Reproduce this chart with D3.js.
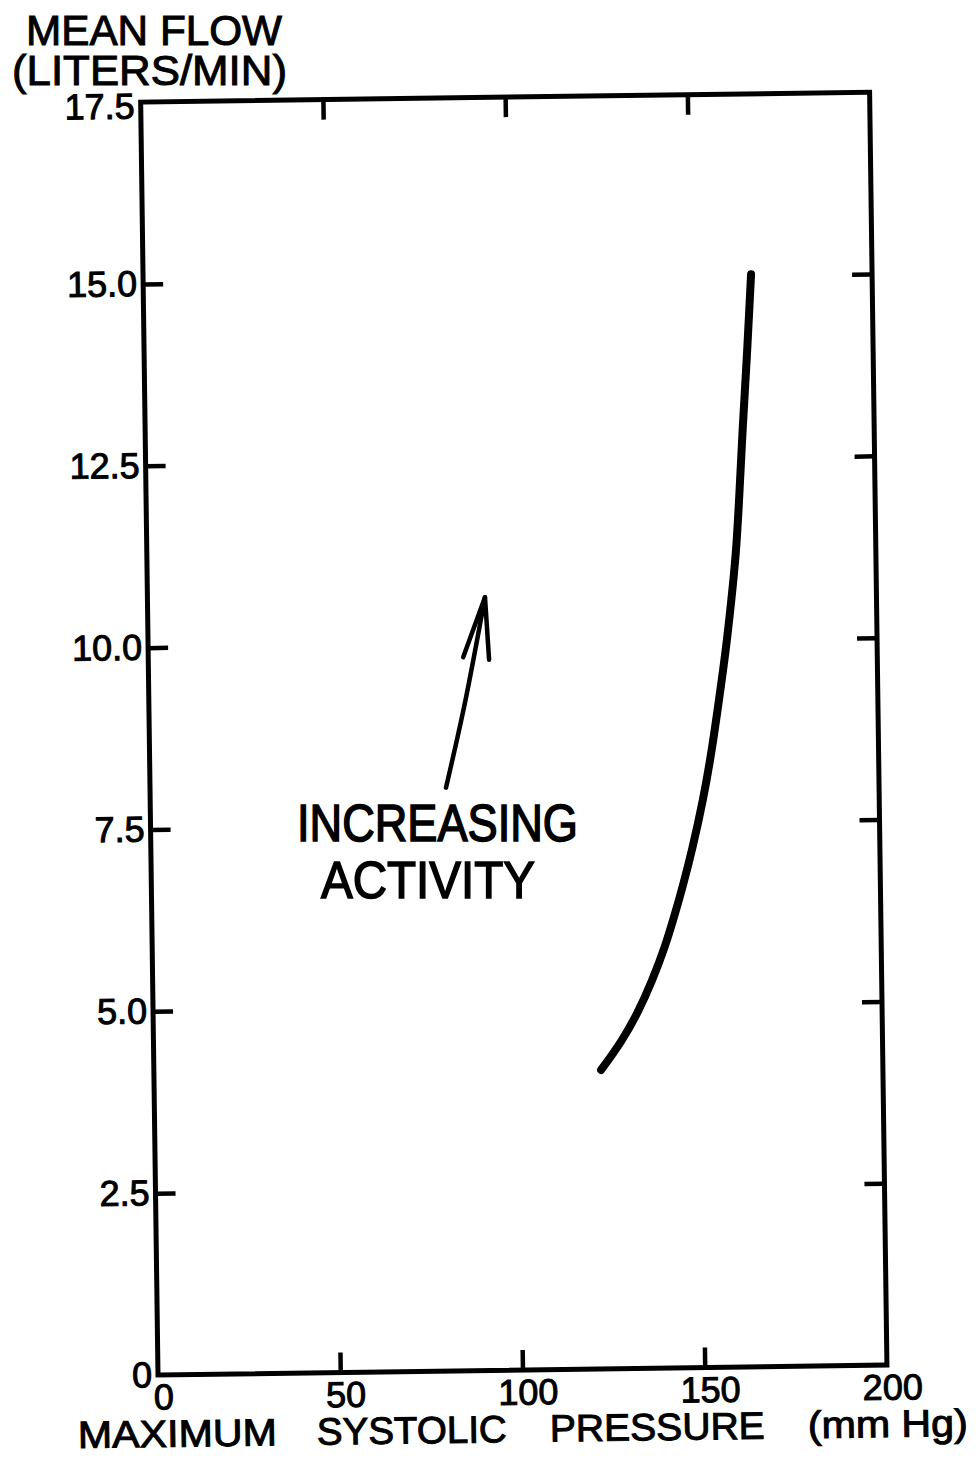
<!DOCTYPE html>
<html>
<head>
<meta charset="utf-8">
<script src="https://cdn.jsdelivr.net/npm/d3@7"></script>
<style>
  body { margin: 0; background: #fff; }
  text { font-family: "Liberation Sans", Arial, sans-serif; fill: #000; stroke: #000; stroke-width: 1; }
</style>
</head>
<body>
<div id="chart"></div>
<script>
// values
const pressure = [122.7, 128.5, 133.0, 137.0, 140.7, 143.6, 145.9, 148.5, 151.7, 154.3, 156.4, 158.5, 160.2, 161.6, 162.6, 164.0, 165.5, 166.8];
const flow = [4.11, 4.50, 4.89, 5.32, 5.79, 6.25, 6.64, 7.12, 7.80, 8.49, 9.17, 9.86, 10.55, 11.16, 11.85, 12.98, 13.98, 15.02];
const xTicks = [0, 50, 100, 150, 200];
const yTicks = [0, 2.5, 5, 7.5, 10, 12.5, 15, 17.5];
const innerX = [50, 100, 150];
const innerY = [2.5, 5, 7.5, 10, 12.5, 15];

// arrow "increasing activity" (shaft and head), in data units
const arrowPressure = [81.2, 86.7, 92.6];
const arrowFlow = [8.02, 9.18, 10.63];
const headPressure = [86.4, 92.6, 93.5];
const headFlow = [9.81, 10.63, 9.77];

const width = 978, height = 1458;
const plotW = 729, plotH = 1273;
const tilt = -0.78; // the scan is slightly rotated

const svg = d3.select("#chart")
    .append("svg")
    .attr("width", width)
    .attr("height", height);

svg.append("rect").attr("width", width).attr("height", height).attr("fill", "#fff");

const x = d3.scaleLinear().domain([0, 200]).range([0, plotW]);
const y = d3.scaleLinear().domain([0, 17.5]).range([plotH, 0]);

const g = svg.append("g")
    .attr("transform", `translate(158,1375) rotate(${tilt}) translate(0,${-plotH})`);

// frame
g.append("rect")
    .attr("width", plotW)
    .attr("height", plotH)
    .attr("fill", "none")
    .attr("stroke", "#000")
    .attr("stroke-width", 5);

function styleAxis(sel) {
    sel.select(".domain").remove();
    sel.selectAll(".tick line").attr("stroke", "#000").attr("stroke-width", 4.5);
    sel.selectAll(".tick text")
        .attr("font-family", "'Liberation Sans', Arial, sans-serif")
        .attr("font-size", 36)
        .attr("fill", "#000");
}

// bottom axis with labels
g.append("g")
    .attr("transform", `translate(0,${plotH})`)
    .call(d3.axisBottom(x).tickValues(xTicks).tickSize(-20).tickPadding(9).tickFormat(d3.format("d")))
    .call(styleAxis)
    .call(a => a.selectAll(".tick text").attr("dx", 5))
    .call(a => a.selectAll(".tick line").filter(d => d === 0 || d === 200).remove());

// left axis with labels
g.append("g")
    .call(d3.axisLeft(y).tickValues(yTicks).tickSize(-20).tickPadding(6)
        .tickFormat(d => d === 0 ? "0" : d3.format(".1f")(d)))
    .call(styleAxis)
    .call(a => a.selectAll(".tick text").filter(d => d === 17.5).attr("dy", "0.44em"))
    .call(a => a.selectAll(".tick line").filter(d => d === 0 || d === 17.5).remove());

// top and right: ticks only
g.append("g")
    .call(d3.axisTop(x).tickValues(innerX).tickSize(-20).tickFormat(""))
    .call(styleAxis);

g.append("g")
    .attr("transform", `translate(${plotW},0)`)
    .call(d3.axisRight(y).tickValues(innerY).tickSize(-20).tickFormat(""))
    .call(styleAxis);

// the curve
const line = d3.line()
    .x(d => x(d[0]))
    .y(d => y(d[1]))
    .curve(d3.curveBasis);

g.append("path")
    .datum(d3.zip(pressure, flow))
    .attr("d", line)
    .attr("fill", "none")
    .attr("stroke", "#000")
    .attr("stroke-width", 8)
    .attr("stroke-linecap", "round");

// arrow
g.append("path")
    .datum(d3.zip(arrowPressure, arrowFlow))
    .attr("d", line.curve(d3.curveCatmullRom))
    .attr("fill", "none")
    .attr("stroke", "#000")
    .attr("stroke-width", 4.5)
    .attr("stroke-linecap", "round");

g.append("path")
    .datum(d3.zip(headPressure, headFlow))
    .attr("d", d3.line().x(d => x(d[0])).y(d => y(d[1])))
    .attr("fill", "none")
    .attr("stroke", "#000")
    .attr("stroke-width", 4.5)
    .attr("stroke-linecap", "round")
    .attr("stroke-linejoin", "round");

// annotation
svg.append("text")
    .attr("x", 297).attr("y", 841)
    .attr("font-size", 51)
    .attr("textLength", 281)
    .attr("lengthAdjust", "spacingAndGlyphs")
    .style("stroke-width", 1.5)
    .text("INCREASING");

svg.append("text")
    .attr("x", 321).attr("y", 898)
    .attr("font-size", 51)
    .attr("textLength", 214)
    .attr("lengthAdjust", "spacingAndGlyphs")
    .style("stroke-width", 1.5)
    .text("ACTIVITY");

// y title
svg.append("text")
    .attr("x", 26).attr("y", 45)
    .attr("font-size", 42)
    .attr("textLength", 256)
    .attr("lengthAdjust", "spacingAndGlyphs")
    .text("MEAN FLOW");

svg.append("text")
    .attr("x", 12).attr("y", 85)
    .attr("font-size", 42)
    .attr("textLength", 275)
    .attr("lengthAdjust", "spacingAndGlyphs")
    .text("(LITERS/MIN)");

// x title
const xTitle = svg.append("g")
    .attr("transform", `translate(78,1448) rotate(${tilt})`);

const titleWords = ["MAXIMUM", "SYSTOLIC", "PRESSURE", "(mm Hg)"];
const titleStarts = [0, 239, 472, 730];
const titleWidths = [199, 190, 215, 160];

xTitle.selectAll("text")
    .data(titleWords)
    .join("text")
    .attr("x", (d, i) => titleStarts[i])
    .attr("font-size", 38)
    .attr("textLength", (d, i) => titleWidths[i])
    .attr("lengthAdjust", "spacingAndGlyphs")
    .text(d => d);
</script>
</body>
</html>
